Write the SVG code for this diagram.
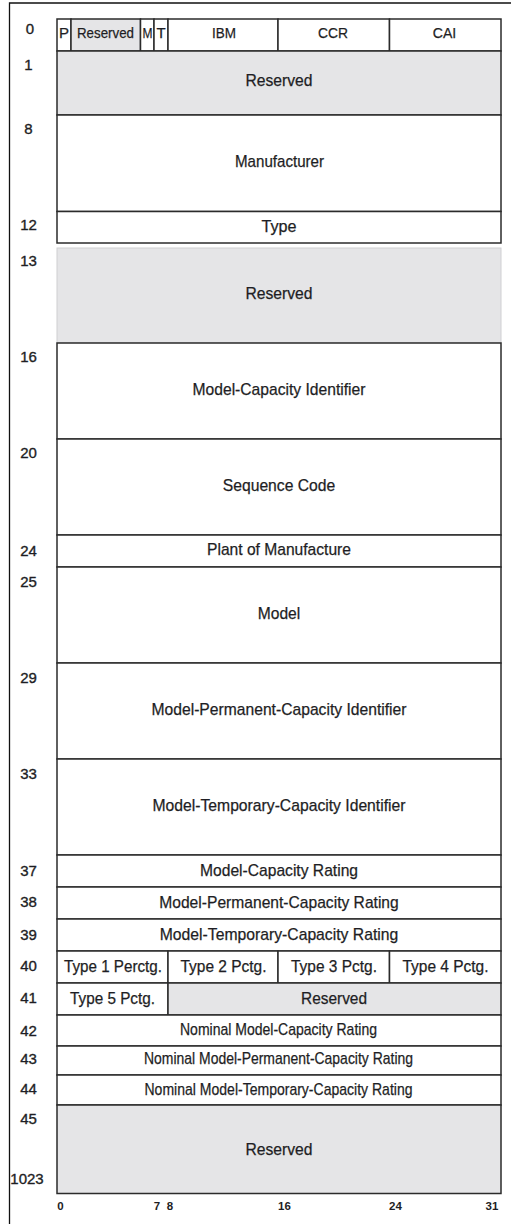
<svg xmlns="http://www.w3.org/2000/svg" width="511" height="1224" viewBox="0 0 511 1224">
<style>
.c{fill:#ffffff;stroke:#2b2b2b;stroke-width:1.5}
.g{fill:#e5e5e7;stroke:#2b2b2b;stroke-width:1.5}
.t{font-family:"Liberation Sans",Arial,sans-serif;font-size:17px;fill:#1e1e24;stroke:#1e1e24;stroke-width:0.25;text-anchor:middle}
.h{font-family:"Liberation Sans",Arial,sans-serif;font-size:15px;fill:#1e1e24;stroke:#1e1e24;stroke-width:0.25;text-anchor:middle}
.n{font-family:"Liberation Sans",Arial,sans-serif;font-size:15px;fill:#1e1e24;stroke:#1e1e24;stroke-width:0.35;text-anchor:middle}
.a{font-family:"Liberation Sans",Arial,sans-serif;font-size:11.5px;font-weight:bold;fill:#1e1e24;text-anchor:middle}
</style>
<rect x="0" y="0" width="511" height="1224" fill="#ffffff"/>
<g id="frame"><path d="M9.5,1224 V3 H511" fill="none" stroke="#111" stroke-width="1.3"/></g>
<g id="row0">
<rect class="c" x="57" y="19" width="14" height="32"/>
<rect class="g" x="71" y="19" width="69.5" height="32"/>
<rect class="c" x="140.5" y="19" width="13.5" height="32"/>
<rect class="c" x="154" y="19" width="14" height="32"/>
<rect class="c" x="168" y="19" width="110" height="32"/>
<rect class="c" x="278" y="19" width="111.5" height="32"/>
<rect class="c" x="389.5" y="19" width="111.5" height="32"/>
<text class="h" x="64" y="37.5">P</text>
<text class="h" x="105.5" y="37.5" textLength="57" lengthAdjust="spacingAndGlyphs">Reserved</text>
<text class="h" x="147.5" y="37.5" textLength="10" lengthAdjust="spacingAndGlyphs">M</text>
<text class="h" x="161" y="37.5">T</text>
<text class="h" x="224" y="37.5" textLength="24" lengthAdjust="spacingAndGlyphs">IBM</text>
<text class="h" x="333" y="37.5" textLength="30" lengthAdjust="spacingAndGlyphs">CCR</text>
<text class="h" x="444.5" y="37.5" textLength="23.5" lengthAdjust="spacingAndGlyphs">CAI</text>
</g>
<g id="row1"><rect class="g" x="57" y="51" width="444" height="64"/><text class="t" x="279" y="86" textLength="67" lengthAdjust="spacingAndGlyphs">Reserved</text></g>
<g id="row8"><rect class="c" x="57" y="115" width="444" height="96.5"/><text class="t" x="279.5" y="167" textLength="89" lengthAdjust="spacingAndGlyphs">Manufacturer</text></g>
<g id="row12"><rect class="c" x="57" y="211.5" width="444" height="31.5"/><text class="t" x="279" y="231.5" textLength="35" lengthAdjust="spacingAndGlyphs">Type</text></g>
<g id="row13"><rect x="57" y="248" width="444" height="95" fill="#e5e5e7" stroke="#cfcfd2" stroke-width="1"/><text class="t" x="279" y="299" textLength="67" lengthAdjust="spacingAndGlyphs">Reserved</text></g>
<g id="row16"><rect class="c" x="57" y="343" width="444" height="96"/><text class="t" x="279" y="395" textLength="173" lengthAdjust="spacingAndGlyphs">Model-Capacity Identifier</text></g>
<g id="row20"><rect class="c" x="57" y="439" width="444" height="96"/><text class="t" x="279" y="491" textLength="112.5" lengthAdjust="spacingAndGlyphs">Sequence Code</text></g>
<g id="row24"><rect class="c" x="57" y="535" width="444" height="32"/><text class="t" x="279" y="555" textLength="144" lengthAdjust="spacingAndGlyphs">Plant of Manufacture</text></g>
<g id="row25"><rect class="c" x="57" y="567" width="444" height="96"/><text class="t" x="279" y="619" textLength="42.5" lengthAdjust="spacingAndGlyphs">Model</text></g>
<g id="row29"><rect class="c" x="57" y="663" width="444" height="96"/><text class="t" x="279" y="715" textLength="255" lengthAdjust="spacingAndGlyphs">Model-Permanent-Capacity Identifier</text></g>
<g id="row33"><rect class="c" x="57" y="759" width="444" height="96"/><text class="t" x="279" y="811" textLength="253" lengthAdjust="spacingAndGlyphs">Model-Temporary-Capacity Identifier</text></g>
<g id="row37"><rect class="c" x="57" y="855" width="444" height="32"/><text class="t" x="279" y="875.5" textLength="158" lengthAdjust="spacingAndGlyphs">Model-Capacity Rating</text></g>
<g id="row38"><rect class="c" x="57" y="887" width="444" height="32"/><text class="t" x="279" y="907.5" textLength="239.5" lengthAdjust="spacingAndGlyphs">Model-Permanent-Capacity Rating</text></g>
<g id="row39"><rect class="c" x="57" y="919" width="444" height="32"/><text class="t" x="279" y="939.5" textLength="238.5" lengthAdjust="spacingAndGlyphs">Model-Temporary-Capacity Rating</text></g>
<g id="row40">
<rect class="c" x="57" y="951" width="111" height="32"/>
<rect class="c" x="168" y="951" width="110" height="32"/>
<rect class="c" x="278" y="951" width="111.5" height="32"/>
<rect class="c" x="389.5" y="951" width="111.5" height="32"/>
<text class="t" x="113" y="971.5" textLength="98" lengthAdjust="spacingAndGlyphs">Type 1 Perctg.</text>
<text class="t" x="223.5" y="971.5" textLength="86" lengthAdjust="spacingAndGlyphs">Type 2 Pctg.</text>
<text class="t" x="334" y="971.5" textLength="86" lengthAdjust="spacingAndGlyphs">Type 3 Pctg.</text>
<text class="t" x="445.5" y="971.5" textLength="86" lengthAdjust="spacingAndGlyphs">Type 4 Pctg.</text>
</g>
<g id="row41">
<rect class="c" x="57" y="983" width="111" height="32"/>
<rect class="g" x="168" y="983" width="333" height="32"/>
<text class="t" x="112.5" y="1003.5" textLength="85" lengthAdjust="spacingAndGlyphs">Type 5 Pctg.</text>
<text class="t" x="334" y="1003.5" textLength="66" lengthAdjust="spacingAndGlyphs">Reserved</text>
</g>
<g id="row42"><rect class="c" x="57" y="1015" width="444" height="31"/><text class="t" x="278.5" y="1034.5" textLength="197" lengthAdjust="spacingAndGlyphs">Nominal Model-Capacity Rating</text></g>
<g id="row43"><rect class="c" x="57" y="1046" width="444" height="29"/><text class="t" x="278.5" y="1063.5" textLength="269" lengthAdjust="spacingAndGlyphs">Nominal Model-Permanent-Capacity Rating</text></g>
<g id="row44"><rect class="c" x="57" y="1075" width="444" height="30"/><text class="t" x="278.5" y="1094.5" textLength="268" lengthAdjust="spacingAndGlyphs">Nominal Model-Temporary-Capacity Rating</text></g>
<g id="row45"><rect class="g" x="57" y="1105" width="444" height="88.5"/><text class="t" x="279" y="1155" textLength="67" lengthAdjust="spacingAndGlyphs">Reserved</text></g>
<g id="offsets">
<text class="n" x="30" y="33.5">0</text>
<text class="n" x="28.5" y="69.5">1</text>
<text class="n" x="28.5" y="133.5">8</text>
<text class="n" x="28.5" y="229.5">12</text>
<text class="n" x="28.5" y="266">13</text>
<text class="n" x="28.5" y="362">16</text>
<text class="n" x="28.5" y="458">20</text>
<text class="n" x="28.5" y="555.5">24</text>
<text class="n" x="28.5" y="587">25</text>
<text class="n" x="28.5" y="682.5">29</text>
<text class="n" x="28.5" y="778.5">33</text>
<text class="n" x="28.5" y="875.5">37</text>
<text class="n" x="28.5" y="907">38</text>
<text class="n" x="28.5" y="939.5">39</text>
<text class="n" x="28.5" y="971">40</text>
<text class="n" x="28.5" y="1002.5">41</text>
<text class="n" x="28.5" y="1035.5">42</text>
<text class="n" x="28.5" y="1063.5">43</text>
<text class="n" x="28.5" y="1093.5">44</text>
<text class="n" x="28.5" y="1123.5">45</text>
<text class="n" x="27" y="1183.5">1023</text>
</g>
<g id="bits">
<text class="a" x="60.5" y="1209.5">0</text>
<text class="a" x="157" y="1209.5">7</text>
<text class="a" x="170" y="1209.5">8</text>
<text class="a" x="284.5" y="1209.5">16</text>
<text class="a" x="395.5" y="1209.5">24</text>
<text class="a" x="492" y="1209.5">31</text>
</g>
</svg>
